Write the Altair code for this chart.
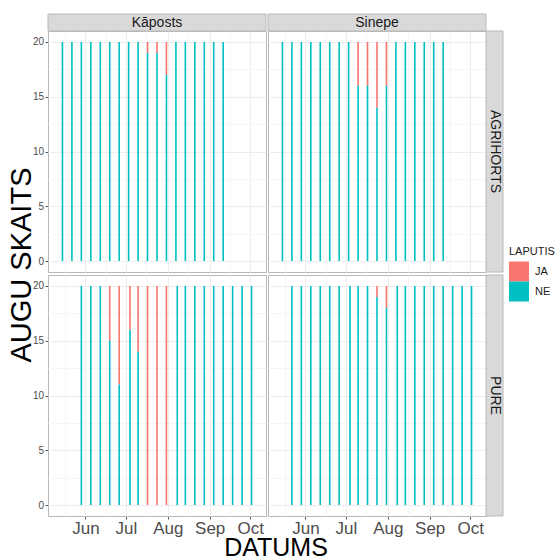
import altair as alt
import pandas as pd

FONT = "Liberation Sans"

CROPS = ["Kāposts", "Sinepe"]
SITES = ["AGRIHORTS", "PURE"]
LAPUTIS = ["JA", "NE"]
COLORS = ["#F8766D", "#00BFC4"]

DATES_AGRIHORTS = ["2019-05-15", "2019-05-22", "2019-05-29", "2019-06-05", "2019-06-12",
                   "2019-06-19", "2019-06-26", "2019-07-03", "2019-07-10", "2019-07-17",
                   "2019-07-24", "2019-07-31", "2019-08-07", "2019-08-14", "2019-08-21",
                   "2019-08-28", "2019-09-04", "2019-09-11"]
DATES_KAPOSTS_PURE = ["2019-05-29", "2019-06-05", "2019-06-12", "2019-06-19", "2019-06-26",
                      "2019-07-04", "2019-07-10", "2019-07-17", "2019-07-24", "2019-07-31",
                      "2019-08-08", "2019-08-14", "2019-08-21", "2019-08-28", "2019-09-04",
                      "2019-09-11", "2019-09-18", "2019-09-25", "2019-10-02"]
DATES_SINEPE_PURE = ["2019-05-22", "2019-05-29", "2019-06-05", "2019-06-12", "2019-06-19",
                     "2019-06-26", "2019-07-04", "2019-07-10", "2019-07-17", "2019-07-24",
                     "2019-07-31", "2019-08-08", "2019-08-14", "2019-08-21", "2019-08-28",
                     "2019-09-04", "2019-09-11", "2019-09-18", "2019-09-25", "2019-10-02"]

JA_KAPOSTS_AGRIHORTS = [0, 0, 0, 0, 0, 0, 0, 0, 0, 1, 1, 3, 0, 0, 0, 0, 0, 0]
NE_KAPOSTS_AGRIHORTS = [20, 20, 20, 20, 20, 20, 20, 20, 20, 19, 19, 17, 20, 20, 20, 20, 20, 20]
JA_SINEPE_AGRIHORTS = [0, 0, 0, 0, 0, 0, 0, 0, 4, 4, 6, 4, 0, 0, 0, 0, 0, 0]
NE_SINEPE_AGRIHORTS = [20, 20, 20, 20, 20, 20, 20, 20, 16, 16, 14, 16, 20, 20, 20, 20, 20, 20]
JA_KAPOSTS_PURE = [0, 0, 0, 5, 9, 4, 6, 20, 20, 20, 0, 0, 0, 0, 0, 0, 0, 0, 0]
NE_KAPOSTS_PURE = [20, 20, 20, 15, 11, 16, 14, 0, 0, 0, 20, 20, 20, 20, 20, 20, 20, 20, 20]
JA_SINEPE_PURE = [0, 0, 0, 0, 0, 0, 0, 0, 0, 1, 2, 0, 0, 0, 0, 0, 0, 0, 0, 0]
NE_SINEPE_PURE = [20, 20, 20, 20, 20, 20, 20, 20, 20, 19, 18, 20, 20, 20, 20, 20, 20, 20, 20, 20]

X_DOMAIN = ["2019-05-08", "2019-10-09"]
X_TICKS = ["2019-05-17", "2019-06-01", "2019-06-16", "2019-07-01", "2019-07-16",
           "2019-08-01", "2019-08-16", "2019-09-01", "2019-09-16", "2019-10-01"]
Y_TICKS = [0, 2.5, 5, 7.5, 10, 12.5, 15, 17.5, 20]
Y_DOMAIN = [-1, 21]

panels = [
    ("Kāposts", "AGRIHORTS", DATES_AGRIHORTS, JA_KAPOSTS_AGRIHORTS, NE_KAPOSTS_AGRIHORTS),
    ("Sinepe", "AGRIHORTS", DATES_AGRIHORTS, JA_SINEPE_AGRIHORTS, NE_SINEPE_AGRIHORTS),
    ("Kāposts", "PURE", DATES_KAPOSTS_PURE, JA_KAPOSTS_PURE, NE_KAPOSTS_PURE),
    ("Sinepe", "PURE", DATES_SINEPE_PURE, JA_SINEPE_PURE, NE_SINEPE_PURE),
]
rows = []
for crop, site, dates, ja, ne in panels:
    for d, a, b in zip(dates, ja, ne):
        rows.append({"CROP": crop, "SITE": site, "DATUMS": d, "LAPUTIS": "JA", "SKAITS": a})
        rows.append({"CROP": crop, "SITE": site, "DATUMS": d, "LAPUTIS": "NE", "SKAITS": b})
df = pd.DataFrame(rows)


def dt(s):
    y, m, d = (int(v) for v in s.split("-"))
    return alt.DateTime(year=y, month=m, date=d, utc=True)


W, H = 218, 241
STRIP = 17
STRIP_FILL = "#D9D9D9"
BORDER = "#B8B8B8"
GRID_MAJOR = "#EDEDED"
GRID_MINOR = "#F6F6F6"

major_x = "utcdate(datum.value) == 1"
major_y = "datum.value % 5 == 0"

bars = alt.Chart().transform_filter("datum.SKAITS > 0").transform_calculate(
    ORD="datum.LAPUTIS == 'NE' ? 0 : 1"
).mark_bar(size=1.6).encode(
    x=alt.X("DATUMS:T",
            scale=alt.Scale(type="utc", domain=[dt(s) for s in X_DOMAIN]),
            axis=alt.Axis(title=None, values=[dt(s) for s in X_TICKS],
                          labelExpr=f"{major_x} ? utcFormat(datum.value, '%b') : ''",
                          labelFontSize=17, labelPadding=1, minExtent=0,
                          tickOpacity={"condition": {"test": major_x, "value": 1}, "value": 0},
                          gridColor={"condition": {"test": major_x, "value": GRID_MAJOR}, "value": GRID_MINOR})),
    y=alt.Y("SKAITS:Q", stack="zero",
            scale=alt.Scale(domain=Y_DOMAIN, nice=False, zero=False),
            axis=alt.Axis(title=None, values=Y_TICKS,
                          labelExpr=f"{major_y} ? datum.label : ''",
                          labelFontSize=10, labelPadding=1.5, minExtent=0,
                          tickOpacity={"condition": {"test": major_y, "value": 1}, "value": 0},
                          gridColor={"condition": {"test": major_y, "value": GRID_MAJOR}, "value": GRID_MINOR})),
    color=alt.Color("LAPUTIS:N", scale=alt.Scale(domain=LAPUTIS, range=COLORS),
                    legend=alt.Legend(title="LAPUTIS", orient="none", legendX=461, legendY=215,
                                      padding=0, symbolType="square", symbolSize=400,
                                      symbolStrokeWidth=0, symbolOpacity=1, rowPadding=0,
                                      labelFontSize=11, titleFontSize=11, titleFontWeight="normal",
                                      titleColor="#1A1A1A", labelColor="#1A1A1A",
                                      titlePadding=4.5, labelOffset=6)),
    order=alt.Order("ORD:Q"),
)

top_strip = alt.Chart().transform_filter("datum.SITE == 'AGRIHORTS'").transform_aggregate(
    n="count()", groupby=["CROP", "SITE"]
)
top_rect = top_strip.mark_rect(fill=STRIP_FILL, stroke=BORDER, strokeWidth=1, clip=False).encode(
    x=alt.value(0), x2=alt.value(W), y=alt.value(-STRIP), y2=alt.value(0))
top_text = top_strip.mark_text(fontSize=14, color="#1A1A1A", font=FONT, baseline="middle",
                               align="center", clip=False).encode(
    text="CROP:N", x=alt.value(W / 2), y=alt.value(-STRIP / 2))

side_strip = alt.Chart().transform_filter("datum.CROP == 'Sinepe'").transform_aggregate(
    n="count()", groupby=["CROP", "SITE"]
)
side_rect = side_strip.mark_rect(fill=STRIP_FILL, stroke=BORDER, strokeWidth=1, clip=False).encode(
    x=alt.value(W), x2=alt.value(W + STRIP), y=alt.value(0), y2=alt.value(H))
side_text = side_strip.mark_text(fontSize=14, color="#1A1A1A", font=FONT, baseline="middle",
                                 align="center", angle=90, clip=False).encode(
    text="SITE:N", x=alt.value(W + STRIP / 2), y=alt.value(H / 2))

layered = alt.layer(bars, top_rect, top_text, side_rect, side_text, data=df).properties(
    width=W, height=H)

chart = layered.facet(
    row=alt.Row("SITE:N", sort=SITES, title="AUGU SKAITS",
                header=alt.Header(labels=False, labelPadding=0, titleFontSize=29, titleFont=FONT,
                                  titleFontWeight="normal", titleColor="black", titlePadding=-15)),
    column=alt.Column("CROP:N", sort=CROPS, title="DATUMS",
                      header=alt.Header(labels=False, labelPadding=0, titleOrient="bottom",
                                        titleFontSize=25, titleFont=FONT, titleFontWeight="normal",
                                        titleColor="black", titlePadding=-10)),
    spacing={"row": 3, "column": 2},
    bounds="flush",
).properties(
    padding={"left": 7, "top": 13, "right": 0, "bottom": -4},
    background="white",
).configure_view(
    stroke=BORDER, strokeWidth=1
).configure_axis(
    labelFont=FONT, labelColor="#4D4D4D", tickColor="#555555", tickSize=3,
    domain=False, grid=True, gridWidth=1
).configure_axisY(
    minExtent=0
).configure_legend(
    labelFont=FONT, titleFont=FONT
)

chart.save("out.html", embed_options={"renderer": "svg", "actions": False})
